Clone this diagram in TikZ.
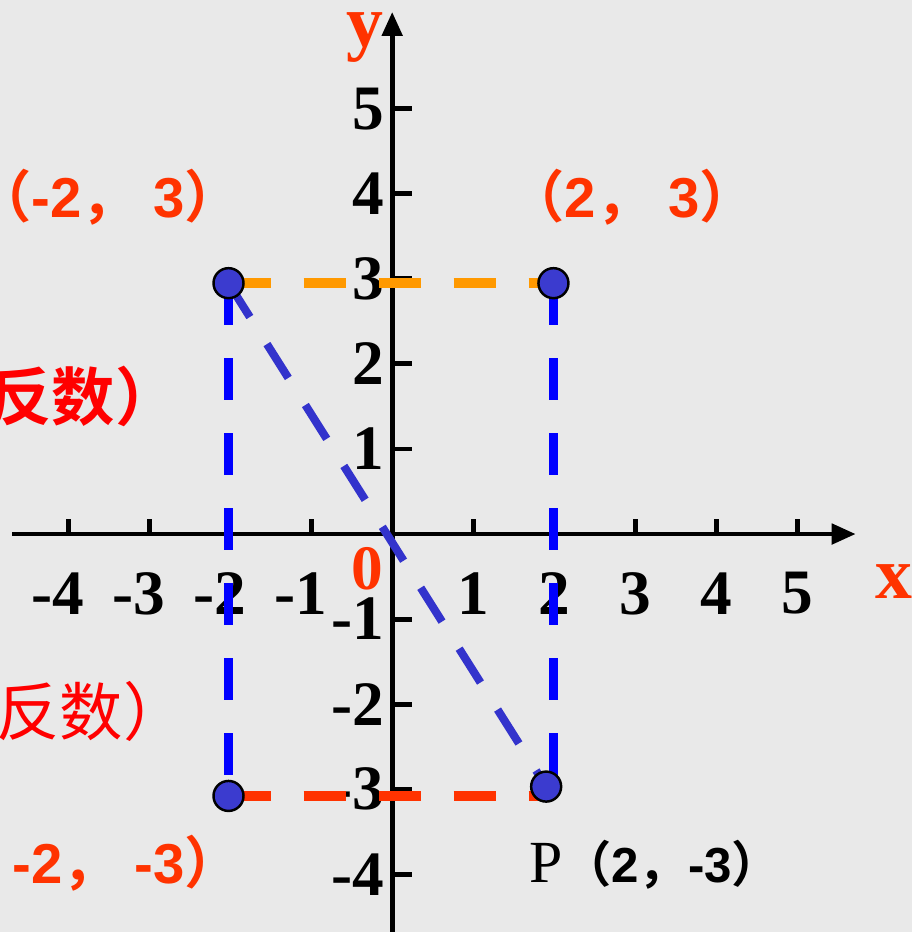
\documentclass[tikz,border=0pt]{standalone}
\usepackage{fontspec}
\setmainfont{Liberation Serif}
\newfontfamily\lsans{Liberation Sans}
\newfontfamily\cjk{Noto Sans CJK SC}[BoldFont={Noto Sans CJK SC Bold}]
\newcommand\fwpunct[1]{{\cjk #1}}
\usetikzlibrary{arrows.meta}
\definecolor{labelred}{RGB}{255,51,0}
\definecolor{purered}{RGB}{255,0,0}
\definecolor{dashorange}{RGB}{255,153,0}
\definecolor{dashblue}{RGB}{0,0,255}
\definecolor{diagblue}{RGB}{51,51,204}
\definecolor{dotblue}{RGB}{59,59,207}
\definecolor{paper}{RGB}{233,233,233}

\begin{document}
\begin{tikzpicture}[
  x=0.81cm, y=0.85cm,
  axis/.style={line width=1.4pt, -{Triangle[length=0.24cm, width=0.2cm]}},
  tickmark/.style={line width=1.4pt},
  ticklabel/.style={font={\bfseries\fontsize{18}{20}\selectfont}, inner sep=0pt},
  axisname/.style={font={\bfseries\fontsize{21}{24}\selectfont}, text=labelred, inner sep=0pt},
  coordlabel/.style={font={\lsans\bfseries\fontsize{16}{19}\selectfont}, text=labelred, inner sep=0pt},
  notelabel/.style={font={\cjk\fontsize{18}{21}\selectfont}, text=purered, inner sep=0pt, anchor=east},
  dashline/.style={line width=2.8pt, dash pattern=on 0.42cm off 0.33cm},
  diagline/.style={line width=2.3pt, draw=diagblue, dash pattern=on 0.4cm off 0.32cm},
  pointdot/.style={circle, fill=dotblue, draw=black, line width=0.7pt, minimum size=0.3cm, inner sep=0pt}
]
\path[use as bounding box, fill=paper] (-4.84,-4.68) rectangle (6.42,6.28);

\coordinate (xaxisl) at (-4.69,0);
\coordinate (xaxisr) at (5.72,0);
\coordinate (yaxisb) at (0,-4.8);
\coordinate (yaxist) at (0,6.14);
\draw [axis] (xaxisl) -- (xaxisr);
\draw [axis] (yaxisb) -- (yaxist);

\foreach \i in {-4,...,-1,1,2,...,5} \draw [tickmark] (\i,0) -- (\i,0.18);
\foreach \j in {-4,...,-1,1,2,...,5} \draw [tickmark] (0,\j) -- (0.25,\j);

\foreach \i in {1,...,5} \node (xlab\i) [ticklabel] at (\i,-0.7) {\i};
\foreach \i in {1,...,4} \node (xlabm\i) [ticklabel] at (-\i,-0.7) {\llap{-}\i};
\foreach \j in {1,...,5} \node (ylab\j) [ticklabel, anchor=east] at (-0.09,\j) {\j};
\foreach \j in {1,...,4} \node (ylabm\j) [ticklabel, anchor=east] at (-0.09,-\j) {-\j};

\node (zero)  [ticklabel, text=labelred] at (-0.31,-0.41) {0};
\node (xname) [axisname] at (6.19,-0.56) {x};
\node (yname) [axisname] at (-0.33,5.84) {y};

\coordinate (tl) at (-2.02,2.95);
\coordinate (tr) at (1.99,2.95);
\coordinate (bl) at (-2.02,-3.08);
\coordinate (br) at (1.99,-3.08);
\coordinate (p)  at (1.90,-2.97);

\draw [dashline, draw=dashblue]   (tl) -- (bl);
\draw [dashline, draw=dashblue]   (tr) -- (br);
\draw [dashline, draw=dashorange] (tl) -- (tr);
\draw [dashline, draw=labelred]   (bl) -- (br);
\draw [diagline] (tl) -- (p);

\node (ptA) [pointdot] at (tl) {};
\node (ptB) [pointdot] at (tr) {};
\node (ptC) [pointdot] at (bl) {};
\node (ptP) [pointdot] at (p)  {};

\node (lblA) [coordlabel, anchor=east] at (-1.86,3.96) {\fwpunct{（}-2\fwpunct{，} 3\fwpunct{）}};
\node (lblB) [coordlabel] at (2.96,3.96) {\fwpunct{（}2\fwpunct{，} 3\fwpunct{）}};
\node (lblC) [coordlabel, anchor=east] at (-1.86,-3.87) {-2\fwpunct{，} -3\fwpunct{）}};
\node (lblP) [anchor=west, inner sep=0pt] at (1.68,-3.89)
  {{\fontsize{17}{20}\selectfont P}{\lsans\bfseries\fontsize{14}{16}\selectfont \fwpunct{（}2\fwpunct{，}-3\fwpunct{）}}};

\node (noteA) [notelabel, font={\cjk\bfseries\fontsize{18}{21}\selectfont}] at (-2.63,1.62) {反数）};
\node (noteC) [notelabel] at (-2.53,-2.09) {反数）};
\end{tikzpicture}
\end{document}
